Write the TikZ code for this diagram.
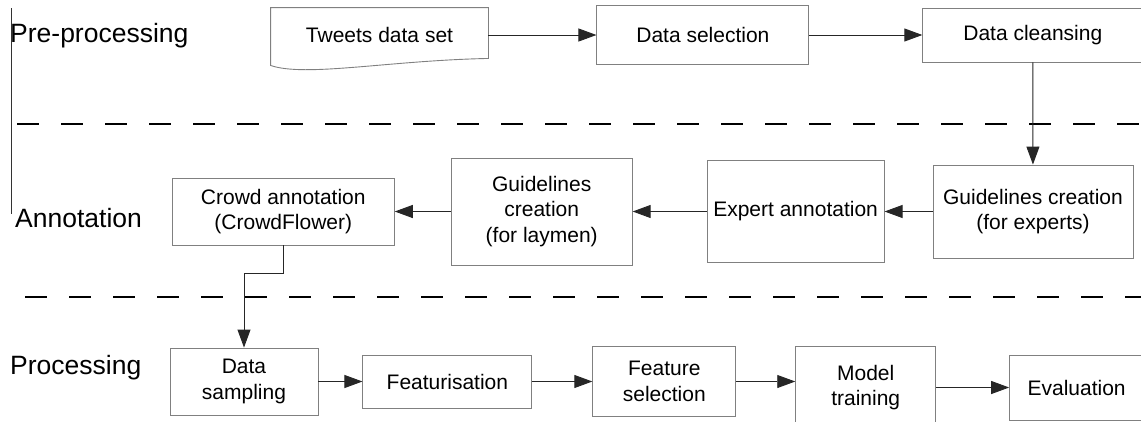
\documentclass[tikz,border=0pt]{standalone}
\usepackage{fontspec}
\setmainfont{Liberation Sans}
\usepackage{tikz}
\usetikzlibrary{positioning,arrows.meta}

\begin{document}
\begin{tikzpicture}[
    stepbox/.style={rectangle, draw=black!50, line width=0.9pt, align=center, inner sep=2pt, font=\fontsize{21}{25.5}\selectfont},
    sect/.style={anchor=base west, inner sep=0pt, font=\fontsize{26.5}{30}\selectfont},
    arr/.style={-{Triangle[length=18pt,width=13pt]}, line width=0.9pt, black!85},
    divider/.style={dash pattern=on 22pt off 22pt, line width=2.7pt},
]
\useasboundingbox (0,0) rectangle (1141pt,-421pt);

% section labels and separators
\draw[line width=0.8pt, black!80] (11pt,-8pt) -- (11pt,-214pt);
\node[sect] (prelbl) at (10pt,-42pt) {Pre-processing};
\node[sect] (annlbl) at (15pt,-227pt) {Annotation};
\node[sect] (proclbl) at (10pt,-374pt) {Processing};
\draw[divider] (17pt,-124pt) -- (1141pt,-124pt);
\draw[divider] (25pt,-297pt) -- (1141pt,-297pt);

% pre-processing row
\node[stepbox, draw=none, minimum width=217pt, minimum height=54pt] (tweets) at (379.5pt,-35pt) {Tweets data set};
\draw[draw=black!50, line width=0.9pt] (tweets.north west) -- (tweets.north east) -- ([yshift=4pt]tweets.south east)
    .. controls +(-100pt,-2pt) and +(35pt,-12pt) .. ([yshift=-3pt]tweets.south west) -- cycle;
\node[stepbox, right=108pt of tweets, minimum width=212pt, minimum height=59pt] (select) {Data selection};
\node[stepbox, right=113pt of select, minimum width=220pt, minimum height=54pt] (cleanse) {Data cleansing};

% annotation row
\node[stepbox, minimum width=200pt, minimum height=93pt] (gexpert) at (1033pt,-211.5pt) {Guidelines creation\\(for experts)};
\node[stepbox, left=48pt of gexpert, minimum width=177pt, minimum height=102pt] (expert) {Expert annotation};
\node[stepbox, left=74pt of expert, minimum width=181pt, minimum height=107pt] (glaymen) {Guidelines\\creation\\(for laymen)};
\node[stepbox, left=56pt of glaymen, minimum width=222pt, minimum height=67pt] (crowd) {Crowd annotation\\(CrowdFlower)};

% processing row
\node[stepbox, minimum width=148pt, minimum height=67pt] (sampling) at (244pt,-381.5pt) {Data\\sampling};
\node[stepbox, right=44pt of sampling, minimum width=169pt, minimum height=53pt] (feat) {Featurisation};
\node[stepbox, right=60pt of feat, minimum width=143pt, minimum height=70pt] (fsel) {Feature\\selection};
\node[stepbox, right=59pt of fsel, yshift=-6pt, minimum width=140pt, minimum height=82pt] (model) {Model\\training};
\node[stepbox, right=73pt of model, minimum width=134pt, minimum height=65pt] (eval) {Evaluation};

\draw[arr] (tweets.east) -- (select);
\draw[arr] (select) -- (cleanse);
\draw[arr] (cleanse) -- (gexpert);
\draw[arr] (gexpert) -- (expert);
\draw[arr] (expert) -- (glaymen);
\draw[arr] (glaymen) -- (crowd);
\draw[arr] (crowd.south) -- ++(0,-28pt) -| (sampling);
\draw[arr] (sampling) -- (feat);
\draw[arr] (feat) -- (fsel);
\draw[arr] (fsel.east) -- (fsel.east -| model.west);
\draw[arr] (model) -- (eval);
\end{tikzpicture}
\end{document}
